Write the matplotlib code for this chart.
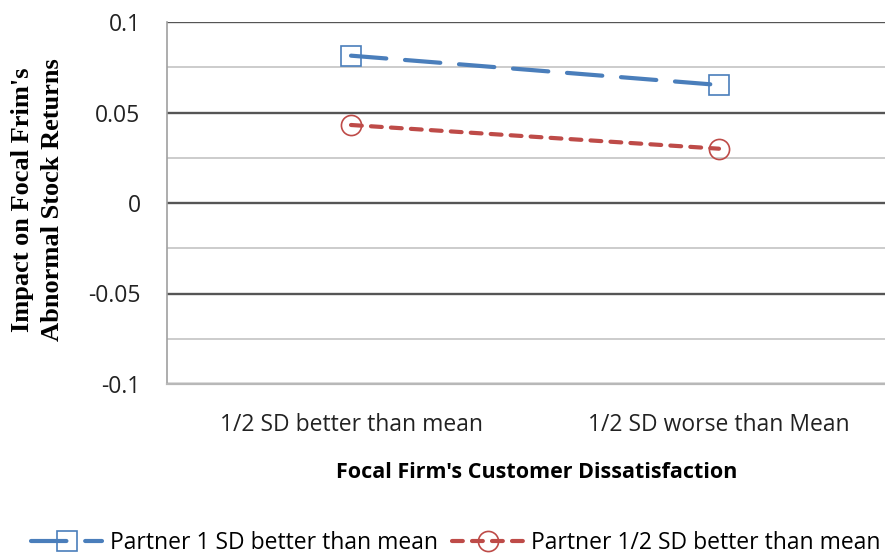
import matplotlib.pyplot as plt
from matplotlib.ticker import MultipleLocator

categories = ['1/2 SD better than mean', '1/2 SD worse than Mean']
partner_1sd = [0.0814, 0.0652]
partner_half_sd = [0.0431, 0.0300]
series_names = ['Partner 1 SD better than mean', 'Partner 1/2 SD better than mean']
ylabel_lines = ["Impact on Focal Frim's", "Abnormal Stock Returns"]

W, H = 885, 559
fig = plt.figure(figsize=(W / 100, H / 100), dpi=100)
# plot area runs past the right edge of the figure
left, right, top, bottom = 167, 903, 22, 384
ax = fig.add_axes([left / W, 1 - bottom / H, (right - left) / W, (bottom - top) / H])

x = [0.5, 1.5]
ax.plot(x, partner_1sd, color='#4a7ebb', lw=3, dashes=(8.5, 4.5),
        dash_capstyle='round', marker='s', ms=14, mfc='none', mec='#4a7ebb',
        mew=1.2, label=series_names[0], zorder=3)
ax.plot(x, partner_half_sd, color='#be4b48', lw=3, dashes=(2.6, 2.2),
        dash_capstyle='round', marker='o', ms=14.5, mfc='none', mec='#be4b48',
        mew=1.2, label=series_names[1], zorder=3)

ax.set_xlim(0, 2)
ax.set_ylim(-0.1, 0.1)
ax.yaxis.set_major_locator(MultipleLocator(0.05))
ax.yaxis.set_minor_locator(MultipleLocator(0.025))
ax.grid(which='major', axis='y', color='#555555', lw=1.7)
ax.grid(which='minor', axis='y', color='#c8c8c8', lw=1.3)
ax.set_axisbelow(True)
for s in ['top', 'right']:
    ax.spines[s].set_visible(False)
ax.spines['left'].set_color('#a0a0a0')
ax.spines['bottom'].set_color('#b8b8b8')
ax.spines['left'].set_linewidth(1.2)
ax.spines['bottom'].set_linewidth(1.6)

ax.set_xticks(x)
ax.set_xticklabels(categories)
ax.set_yticks([-0.1, -0.05, 0, 0.05, 0.1])
ax.set_yticklabels(['-0.1', '-0.05', '0', '0.05', '0.1'])
ax.tick_params(axis='both', which='both', length=0, labelsize=16.5, colors='#222222')
ax.tick_params(axis='x', pad=21)
ax.tick_params(axis='y', pad=19)
for lab in ax.get_xticklabels() + ax.get_yticklabels():
    lab.set_fontfamily('Open Sans')

# two-line y label, one text per line
for xpos, line in zip([23, 53], ylabel_lines):
    fig.text(xpos / W, 1 - 200 / H, line, rotation=90, ha='center', va='center',
             fontsize=19, fontweight='bold', family='Liberation Serif')
fig.text(537 / W, 1 - 472 / H, "Focal Firm's Customer Dissatisfaction",
         ha='center', va='center', fontsize=15.5, fontweight='bold', family='Open Sans')

leg = fig.legend(loc='center', bbox_to_anchor=(456 / W, 1 - 543 / H), ncol=2,
                 frameon=False, handlelength=3.1, columnspacing=0.6,
                 handletextpad=0.35, prop={'family': 'Open Sans', 'size': 16.5})

fig.savefig('out.png', dpi=100)
